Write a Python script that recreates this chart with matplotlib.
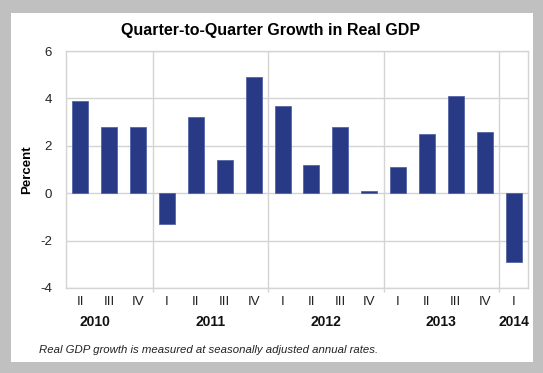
import matplotlib.pyplot as plt
from matplotlib.patches import Rectangle

# Real GDP growth, quarter to quarter (percent, SAAR)
quarters = ['II', 'III', 'IV', 'I', 'II', 'III', 'IV', 'I', 'II', 'III', 'IV',
            'I', 'II', 'III', 'IV', 'I']
growth = [3.9, 2.8, 2.8, -1.3, 3.2, 1.4, 4.9, 3.7, 1.2, 2.8, 0.1,
          1.1, 2.5, 4.1, 2.6, -2.9]
years = ['2010', '2011', '2012', '2013', '2014']
year_pos = [0.5, 4.5, 8.5, 12.5, 15]
year_breaks = [2.5, 6.5, 10.5, 14.5]
yticks = [-4, -2, 0, 2, 4, 6]


def main():
    plt.rcParams['font.family'] = ['Liberation Sans', 'DejaVu Sans']
    fig = plt.figure(figsize=(5.43, 3.73), dpi=100, facecolor='#c0c0c0')

    # white chart panel on the gray frame
    W, H = 543.0, 373.0
    panel = Rectangle((11 / W, 1 - 362 / H), (533 - 11) / W, (362 - 13) / H,
                      transform=fig.transFigure, facecolor='white',
                      edgecolor='none', zorder=-1)
    fig.add_artist(panel)

    ax = fig.add_axes([66 / W, 1 - 288 / H, (528 - 66) / W, (288 - 51) / H])
    ax.set_facecolor('white')

    x = list(range(len(growth)))
    ax.bar(x, growth, width=0.55, color='#283a86', edgecolor='#5564a6',
           linewidth=0.6, zorder=3)

    ax.set_xlim(-0.5, len(growth) - 0.5)
    ax.set_ylim(-4, 6)
    ax.set_yticks(yticks)
    ax.set_yticklabels([str(v) for v in yticks], fontsize=9.5, color='#222222')
    ax.tick_params(axis='y', length=0, pad=10)

    grid_col = '#d4d4d4'
    for v in yticks:
        ax.axhline(v, color=grid_col, linewidth=1.0, zorder=1)
    for b in year_breaks:
        ax.axvline(b, color=grid_col, linewidth=1.0, zorder=1)
    for s in ax.spines.values():
        s.set_color(grid_col)
        s.set_linewidth(1.0)

    ax.set_xticks(x)
    ax.set_xticklabels(quarters, fontsize=9.5, color='#222222')
    ax.tick_params(axis='x', length=0, pad=6)
    # small tick marks at year boundaries
    ax.set_xticks(year_breaks, minor=True)
    ax.tick_params(axis='x', which='minor', length=3, width=1.0, color=grid_col)

    for yr, p in zip(years, year_pos):
        ax.text(p, -0.115, yr, transform=ax.get_xaxis_transform(), ha='center',
                va='top', fontsize=10, fontweight='bold', color='#111111')

    ax.set_ylabel('Percent', fontsize=9.5, fontweight='bold', labelpad=5)

    fig.text(271 / W, 1 - 30 / H, 'Quarter-to-Quarter Growth in Real GDP',
             ha='center', va='center', fontsize=11.5, fontweight='bold')
    fig.text(39 / W, 1 - 350 / H,
             'Real GDP growth is measured at seasonally adjusted annual rates.',
             ha='left', va='center', fontsize=8.2, style='italic', color='#222222')

    fig.savefig('out.png', dpi=100, facecolor=fig.get_facecolor())


if __name__ == "__main__":
    main()
